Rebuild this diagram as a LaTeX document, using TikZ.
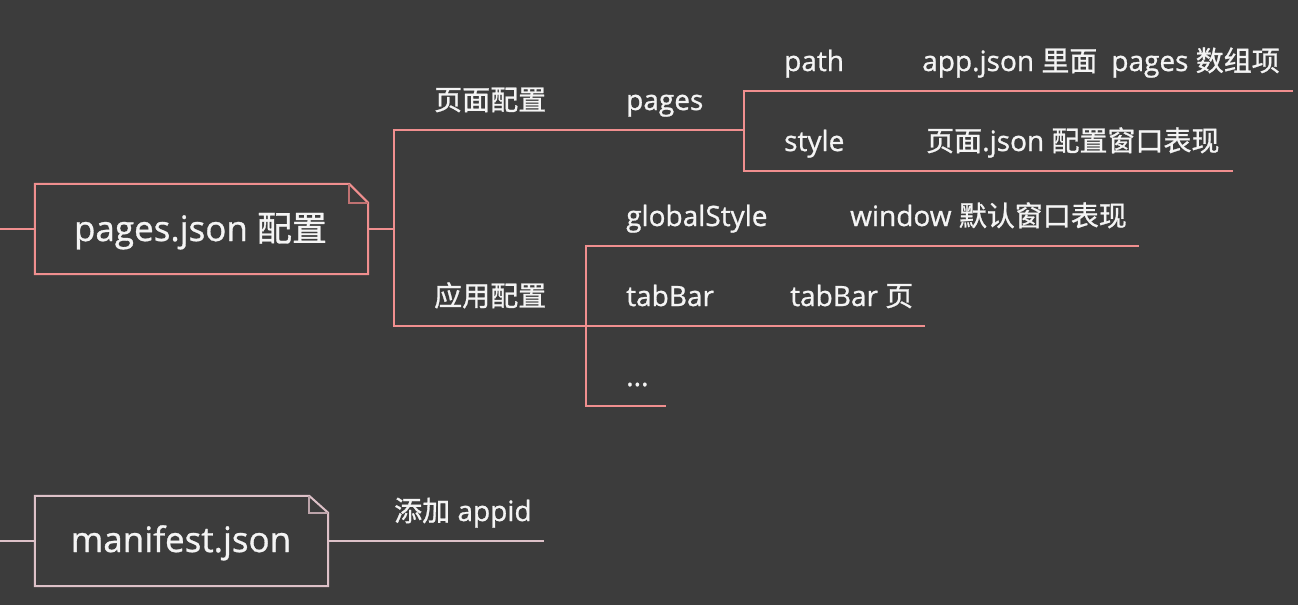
\documentclass[tikz,border=0pt]{standalone}
\usepackage{fontspec}
\setmainfont{Open Sans}[FakeBold=0.9]
\newfontfamily\cjk{Noto Sans CJK SC}[FakeBold=0.9]
\usepackage{xcolor}
\usepackage{tikz}
\usetikzlibrary{positioning}
\definecolor{bgdark}{HTML}{3C3C3C}
\definecolor{linesalmon}{HTML}{F08F8F}
\definecolor{linerose}{HTML}{DDC1C8}
\definecolor{txtwhite}{HTML}{F4F4F4}
\tikzstyle{branch} = [line width=2pt, line cap=rect, draw=linesalmon]
\tikzstyle{rosebranch} = [line width=2pt, draw=linerose]
\tikzstyle{lbl} = [anchor=base west, inner sep=0pt, text=txtwhite, font=\fontsize{28}{34}\selectfont]
\tikzstyle{rootlbl} = [anchor=base, inner sep=0pt, text=txtwhite, font=\fontsize{35}{42}\selectfont]
\tikzstyle{rootbox} = [rectangle, inner sep=0pt, minimum height=90pt]

\begin{document}
\begin{tikzpicture}[x=1pt,y=-1pt]
			\fill[bgdark] (0,0) rectangle (1298,605);
			\useasboundingbox (0,0) rectangle (1298,605);
			% root
			\coordinate (rootin) at (0,229);
			\coordinate (rootfork) at (394,229);
			% page config
			\coordinate (pagecfg) at (394,130);
			\coordinate (pagesfork) at (744,130);
			\coordinate (pathrow) at (744,91);
			\coordinate (pathend) at (1292,91);
			\coordinate (stylerow) at (744,171);
			\coordinate (styleend) at (1232,171);
			% app config
			\coordinate (appcfg) at (394,326);
			\coordinate (globalrow) at (586,246);
			\coordinate (globalend) at (1138,246);
			\coordinate (tabbarend) at (924,326);
			\coordinate (morerow) at (586,406);
			\coordinate (moreend) at (665,406);
			% manifest
			\coordinate (manin) at (0,541);
			\coordinate (manend) at (544,541);
			% boxes
			\node[rootbox, minimum width=333pt, name=pagesjson] at (201.5,229) {};
			\node[rootbox, minimum width=293pt, name=manifestjson] at (181.5,541) {};
			\node[rootlbl, name=pagesjsontxt] at (200.5,241) {pages.json {\cjk 配置}};
			\node[rootlbl, name=manifestjsontxt] at (181,552) {manifest.json};
			\draw[line width=2pt, draw=linesalmon] (pagesjson.south west) -- (pagesjson.north west) -- ([xshift=-19pt]pagesjson.north east) -- ([yshift=-19pt]pagesjson.north east) -- (pagesjson.south east) -- cycle;
			\draw[line width=2pt, draw=linesalmon!80!black] ([xshift=-19pt]pagesjson.north east) |- ([yshift=-19pt]pagesjson.north east);
			\draw[line width=2pt, draw=linerose] (manifestjson.south west) -- (manifestjson.north west) -- ([xshift=-19pt]manifestjson.north east) -- ([yshift=-17pt]manifestjson.north east) -- (manifestjson.south east) -- cycle;
			\draw[line width=2pt, draw=linerose!85!black] ([xshift=-19pt]manifestjson.north east) |- ([yshift=-17pt]manifestjson.north east);
			% labels
			\node[lbl, name=pagecfgtxt] at (434,110) {\cjk 页面配置};
			\node[lbl, name=pagestxt] at (626,110) {pages};
			\node[lbl, name=pathtxt] at (784,71) {path};
			\node[lbl, name=pathdesc] at (922,71) {app.json {\cjk 里面}\hspace{14pt}pages {\cjk 数组项}};
			\node[lbl, name=styletxt] at (784,151) {style};
			\node[lbl, name=styledesc] at (926,151) {{\cjk 页面}.json {\cjk 配置窗口表现}};
			\node[lbl, name=appcfgtxt] at (434,306) {\cjk 应用配置};
			\node[lbl, name=globaltxt] at (626,226) {globalStyle};
			\node[lbl, name=globaldesc] at (850,226) {window {\cjk 默认窗口表现}};
			\node[lbl, name=tabbartxt] at (626,306) {tabBar};
			\node[lbl, name=tabbardesc] at (790,306) {tabBar {\cjk 页}};
			\node[lbl, name=moretxt] at (626,386) {...};
			\node[lbl, name=appidtxt] at (394,521) {{\cjk 添加} appid};
			% connectors
			\draw[branch, line cap=butt] (rootin) -- (pagesjson.west);
			\draw[branch, line cap=butt] (pagesjson.east) -- (rootfork);
			\draw[branch] (pagecfg) -- (appcfg);
			\draw[branch] (pagecfg) -- (pagesfork);
			\draw[branch] (pathrow) -- (stylerow);
			\draw[branch] (pathrow) -- (pathend);
			\draw[branch] (stylerow) -- (styleend);
			\draw[branch] (appcfg) -- (tabbarend);
			\draw[branch] (globalrow) -- (morerow);
			\draw[branch] (globalrow) -- (globalend);
			\draw[branch] (morerow) -- (moreend);
			\draw[rosebranch] (manin) -- (manifestjson.west);
			\draw[rosebranch] (manifestjson.east) -- (manend);
\end{tikzpicture}
\end{document}
